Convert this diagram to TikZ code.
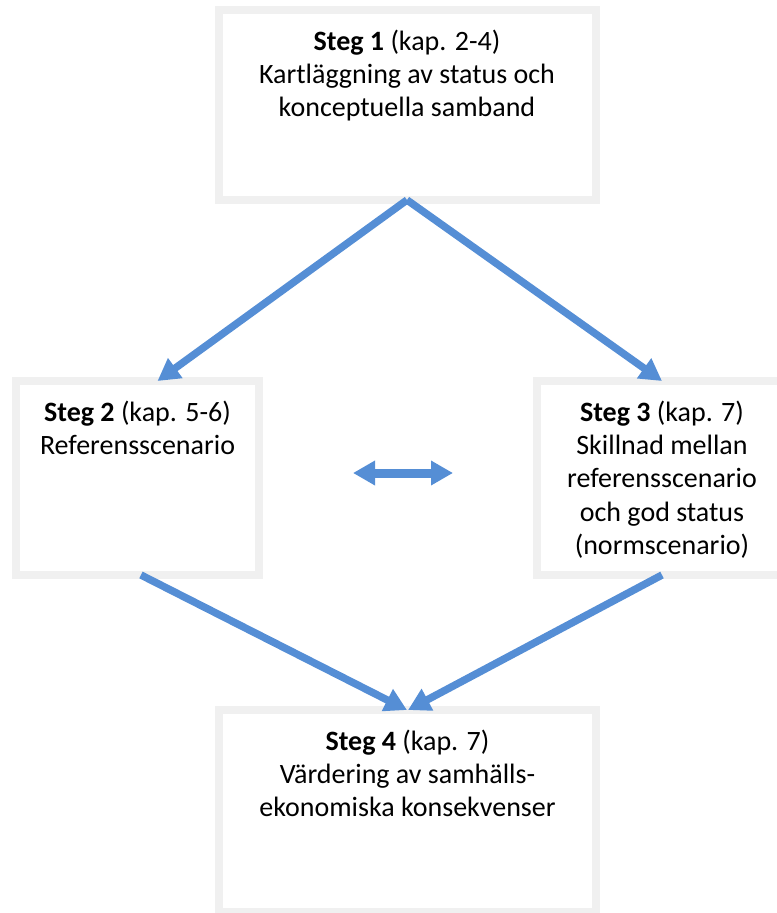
\documentclass[tikz,border=0pt]{standalone}
\usepackage{fontspec}
\setmainfont{Carlito}
\usetikzlibrary{arrows.meta,positioning}
\definecolor{boxgray}{HTML}{F0F0F0}
\definecolor{flowblue}{HTML}{558ED5}

\begin{document}
\begin{tikzpicture}[x=0.75pt, y=-0.75pt,
    stegbox/.style={draw=boxgray, line width=6pt, fill=white, inner sep=0pt, outer sep=0pt},
    stegtext/.style={align=center, inner sep=0pt, outer sep=0pt,
      font=\fontsize{21}{24.9}\selectfont},
    flow/.style={draw=flowblue, line width=5.6pt,
      -{Triangle[length=16.5pt, width=17.5pt]}},
    twoway/.style={draw=flowblue, line width=6.75pt,
      {Triangle[length=16.5pt, width=17.5pt]}-{Triangle[length=16.5pt, width=17.5pt]}}]
  \useasboundingbox (0,0) rectangle (777,913);

  % the four steps
  \node[stegbox, minimum width=282.75pt, minimum height=142.5pt] (b1) at (407,105) {};
  \node[stegbox, minimum width=182.25pt, minimum height=145.5pt] (b2) at (137.5,478) {};
  \node[stegbox, minimum width=187.5pt, minimum height=145.5pt] (b3) at (662,478) {};
  \node[stegbox, minimum width=282.75pt, minimum height=151.5pt] (b4) at (407.5,811) {};

  \node[stegtext, below=15pt of b1.north] (t1)
    {\textbf{Steg 1} (kap. 2-4)\\Kartläggning av status och\\konceptuella samband};
  \node[stegtext, below=15pt of b2.north] (t2)
    {\textbf{Steg 2} (kap. 5-6)\\Referensscenario};
  \node[stegtext, below=15pt of b3.north] (t3)
    {\textbf{Steg 3} (kap. 7)\\Skillnad mellan\\referensscenario\\och god status\\(normscenario)};
  \node[stegtext, below=15pt of b4.north] (t4)
    {\textbf{Steg 4} (kap. 7)\\Värdering av samhälls-\\ekonomiska konsekvenser};

  % arrows
  \draw[flow] (b1.south) -- ([xshift=15pt]b2.north);
  \draw[flow] (b1.south) -- (b3.north);
  \draw[flow] ([xshift=2.6pt]b2.south) -- ([xshift=-0.4pt]b4.north);
  \draw[flow] (b3.south) -- ([xshift=0.4pt]b4.north);

  \coordinate (left) at (353,473);
  \coordinate (right) at (453,473);
  \draw[twoway] (left) -- (right);
\end{tikzpicture}
\end{document}
